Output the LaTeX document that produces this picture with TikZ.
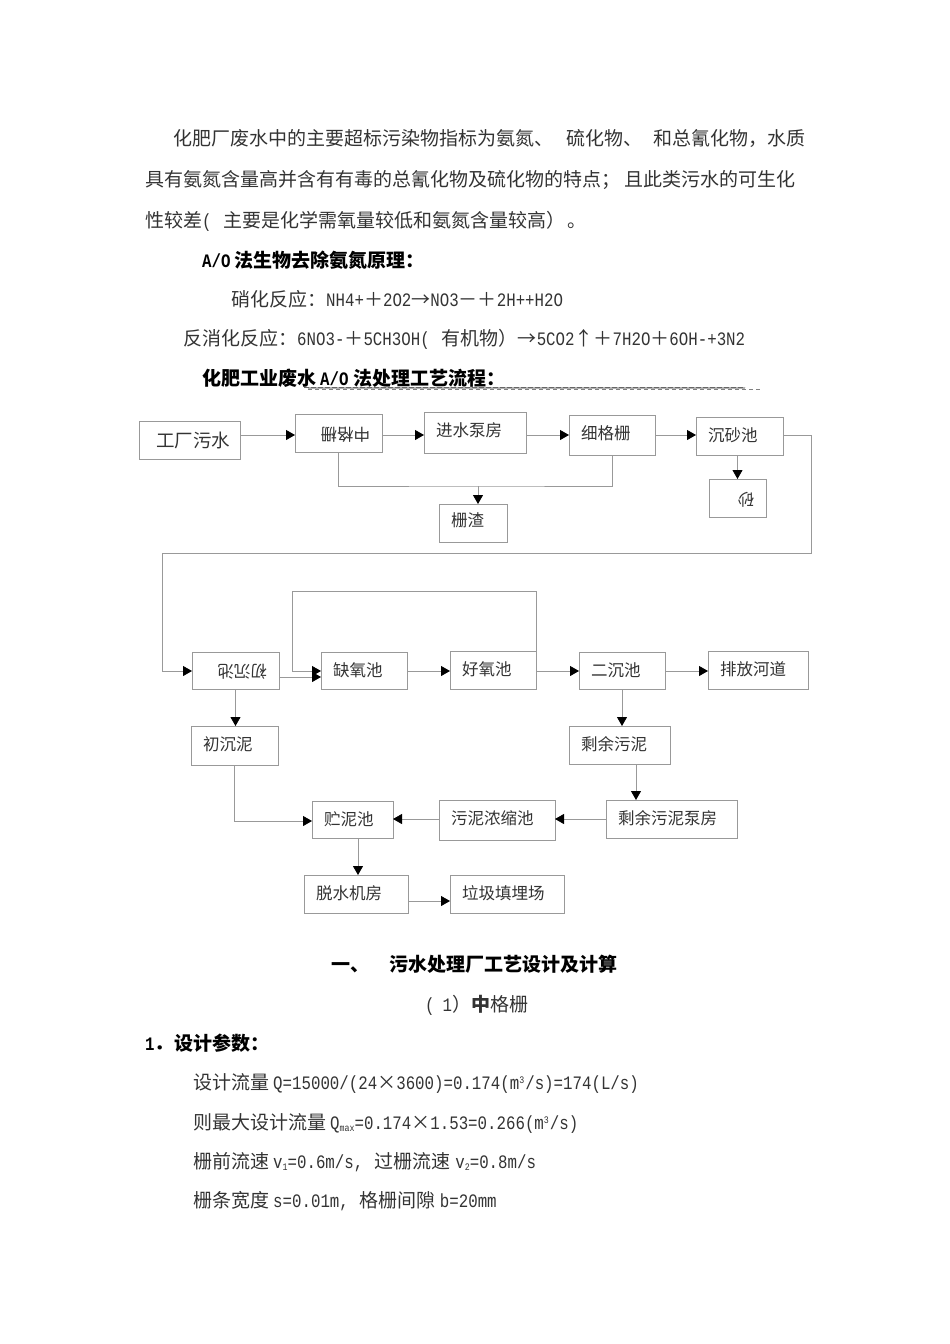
\documentclass[tikz,border=0pt]{standalone}
\usepackage{fontspec}
\setmainfont{Noto Sans CJK SC}
\newfontfamily\latfont[FakeStretch=0.83]{Liberation Mono}
\usetikzlibrary{arrows.meta}
\newcommand{\lat}[1]{{\latfont #1}}
\newcommand{\upidx}[1]{\raisebox{6pt}{\fontsize{10}{10}\selectfont\latfont #1}}
\newcommand{\dnidx}[1]{\raisebox{-2pt}{\fontsize{10}{10}\selectfont\latfont #1}}
\tikzset{
	line/.style={draw=black!40, line width=0.8pt},
	flow/.style={line, -{Triangle[length=9pt,width=10pt,color=black]}},
	para/.style={anchor=base west, inner sep=0pt, text=black!80, font=\fontsize{19}{19}\selectfont},
	head/.style={para, text=black, font=\fontsize{19}{19}\selectfont\bfseries},
	flowbox/.style={draw=black!40, line width=0.8pt, inner xsep=12pt, inner ysep=0pt, outer sep=0pt, text height=24pt, text=black!80, font=\fontsize{16.5}{16.5}\selectfont},
	boxw/.style={text width=#1pt-24pt},
	boxh/.style={text depth=#1pt-24pt},
}

\begin{document}
\begin{tikzpicture}[x=1pt,y=-1pt]
	\useasboundingbox (0,0) rectangle (950,1344);
	%%%%% TEXT ABOVE %%%%%
	\node[para] (lineA) at (173,145) {化肥厂废水中的主要超标污染物指标为氨氮、\hspace{13pt}硫化物、\hspace{11pt}和总氰化物，水质};
	\node[para] (lineB) at (145,186) {具有氨氮含量高并含有有毒的总氰化物及硫化物的特点；\hspace{4pt}且此类污水的可生化};
	\node[para] (lineC) at (145,227) {性较差\lat{(}\hspace{12pt}主要是化学需氧量较低和氨氮含量较高）\hspace{2pt}。};
	\node[head] (lineD) at (202,267) {\lat{A/O}\hspace{4pt}法生物去除氨氮原理：};
	\node[para] (lineE) at (231,306) {硝化反应：\lat{NH4+}＋\lat{2O2}→\lat{NO3}－＋\lat{2H++H2O}};
	\node[para] (lineF) at (183,345) {反消化反应：\lat{6NO3-}＋\lat{5CH3OH(}\hspace{12pt}有机物）→\lat{5CO2}↑＋\lat{7H2O}＋\lat{6OH-+3N2}};
	\node[head] (lineG) at (202,385) {化肥工业废水\hspace{4pt}\lat{A/O}\hspace{5pt}法处理工艺流程：};
	\draw[black!30, line width=2pt] (308,388) -- (745,388);
	\draw[dash pattern=on 5pt off 2pt, black!60, line width=0.7pt] (304,387) -- (745,387);
	\draw[dash pattern=on 4pt off 3pt, black!50, line width=0.7pt] (308,389) -- (761,389);
	%%%%% FIRST ROW %%%%%
	\coordinate (rowa) at (0,435);
	\node[flowbox, boxw=101, text height=26pt, text depth=12pt, font=\fontsize{18.5}{18.5}\selectfont] (factory) at (189.5,440) {\hspace*{5pt}工厂污水};
	\node[flowbox, boxw=87, boxh=38, rotate=180] (zhong) at (338.5,433) {中格栅};
	\node[flowbox, boxw=102, boxh=41] (jinshui) at (475,432.5) {进水泵房};
	\node[flowbox, boxw=86, boxh=40] (xige) at (612,435) {细格栅};
	\node[flowbox, boxw=87, boxh=38] (chensha) at (739.5,436) {沉砂池};
	\node[flowbox, boxw=57, boxh=38, rotate=180] (sha) at (737.5,498) {砂};
	\node[flowbox, boxw=68, text height=22pt, text depth=16pt] (zhazha) at (473,523) {栅渣};
	\coordinate (junc) at (478,486);
	\coordinate (turnr) at (811,553);
	\coordinate (turnl) at (162,553);
	\draw[flow] (factory.east |- rowa) -- (zhong.east |- rowa);
	\draw[flow] (zhong.west |- rowa) -- (jinshui.west |- rowa);
	\draw[flow] (jinshui.east |- rowa) -- (xige.west |- rowa);
	\draw[flow] (xige.east |- rowa) -- (chensha.west |- rowa);
	\draw[line] (zhong.north) |- (junc) -| (xige.south);
	\draw[flow] (junc) -- (junc |- zhazha.north);
	\draw[flow] (chensha.south -| sha.center) -- (sha.south);
	\draw[line] (chensha.east |- rowa) -| (turnr) -- (turnl);
	%%%%% SECOND ROW %%%%%
	\coordinate (rowb) at (0,671);
	\coordinate (rowd) at (0,677);
	\coordinate (looptop) at (292,591);
	\node[flowbox, boxw=87, boxh=37, rotate=180] (chuchen) at (235.5,671) {初沉池};
	\node[flowbox, boxw=86, boxh=37] (queyang) at (364,670.5) {缺氧池};
	\node[flowbox, boxw=86, boxh=38] (haoyang) at (493,670) {好氧池};
	\node[flowbox, boxw=86, boxh=37] (ercheng) at (622,670.5) {二沉池};
	\node[flowbox, boxw=100, boxh=38] (paifang) at (758,670) {排放河道};
	\draw[flow] (turnl) |- (chuchen.east |- rowb);
	\draw[flow] (chuchen.west |- rowd) -- (queyang.west |- rowd);
	\draw[flow] (haoyang.north east) |- (looptop) |- (queyang.west |- rowb);
	\draw[flow] (queyang.east |- rowb) -- (haoyang.west |- rowb);
	\draw[flow] (haoyang.east |- rowb) -- (ercheng.west |- rowb);
	\draw[flow] (ercheng.east |- rowb) -- (paifang.west |- rowb);
	%%%%% SLUDGE %%%%%
	\coordinate (rowe) at (0,819);
	\coordinate (rowf) at (0,821);
	\coordinate (rowg) at (0,901);
	\coordinate (colc) at (636,0);
	\coordinate (cold) at (358,0);
	\node[flowbox, boxw=87, boxh=39] (chuni) at (234.5,745.5) {初沉泥};
	\node[flowbox, boxw=101, boxh=38] (shengyu) at (619.5,745) {剩余污泥};
	\node[flowbox, boxw=131, boxh=38] (bengfang) at (671.5,819) {剩余污泥泵房};
	\node[flowbox, boxw=116, boxh=40] (nongsuo) at (497,820) {污泥浓缩池};
	\node[flowbox, boxw=81, boxh=37] (zhuni) at (352.5,819.5) {贮泥池};
	\node[flowbox, boxw=104, boxh=38] (tuoshui) at (356,894) {脱水机房};
	\node[flowbox, boxw=114, boxh=38] (laji) at (507,894) {垃圾填埋场};
	\draw[flow] (chuchen.north) -- (chuchen.north |- chuni.north);
	\draw[flow] (ercheng.south) -- (ercheng.south |- shengyu.north);
	\draw[flow] (colc |- shengyu.south) -- (colc |- bengfang.north);
	\draw[flow] (bengfang.west |- rowe) -- (nongsuo.east |- rowe);
	\draw[flow] (nongsuo.west |- rowe) -- (zhuni.east |- rowe);
	\draw[flow] (chuni.south) |- (zhuni.west |- rowf);
	\draw[flow] (cold |- zhuni.south) -- (cold |- tuoshui.north);
	\draw[flow] (tuoshui.east |- rowg) -- (laji.west |- rowg);
	%%%%% TEXT BELOW %%%%%
	\node[head] (title) at (331,971) {一、\hspace{20pt}污水处理厂工艺设计及计算};
	\node[para] (subtitle) at (425,1011) {\lat{(}\hspace{8pt}\lat{1}）\hspace{0pt}\hspace{0pt}\textbf{中}格栅};
	\node[head] (param) at (145,1050) {\lat{1}．\hspace{1pt}设计参数：};
	\node[para] (lineH) at (193,1089) {设计流量\hspace{4pt}\lat{Q=15000/(24}×\lat{3600)=0.174(m}\upidx{3}\hspace{1pt}\lat{/s)=174(L/s)}};
	\node[para] (lineI) at (193,1129) {则最大设计流量\hspace{4pt}\lat{Q}\dnidx{max}\lat{=0.174}×\lat{1.53=0.266(m}\upidx{3}\hspace{1pt}\lat{/s)}};
	\node[para] (lineJ) at (193,1168) {栅前流速\hspace{4pt}\lat{v}\dnidx{1}\lat{=0.6m/s,}\hspace{11pt}过栅流速\hspace{5pt}\lat{v}\dnidx{2}\lat{=0.8m/s}};
	\node[para] (lineK) at (193,1207) {栅条宽度\hspace{4pt}\lat{s=0.01m,}\hspace{11pt}格栅间隙\hspace{4pt}\lat{b=20mm}};
\end{tikzpicture}
\end{document}
